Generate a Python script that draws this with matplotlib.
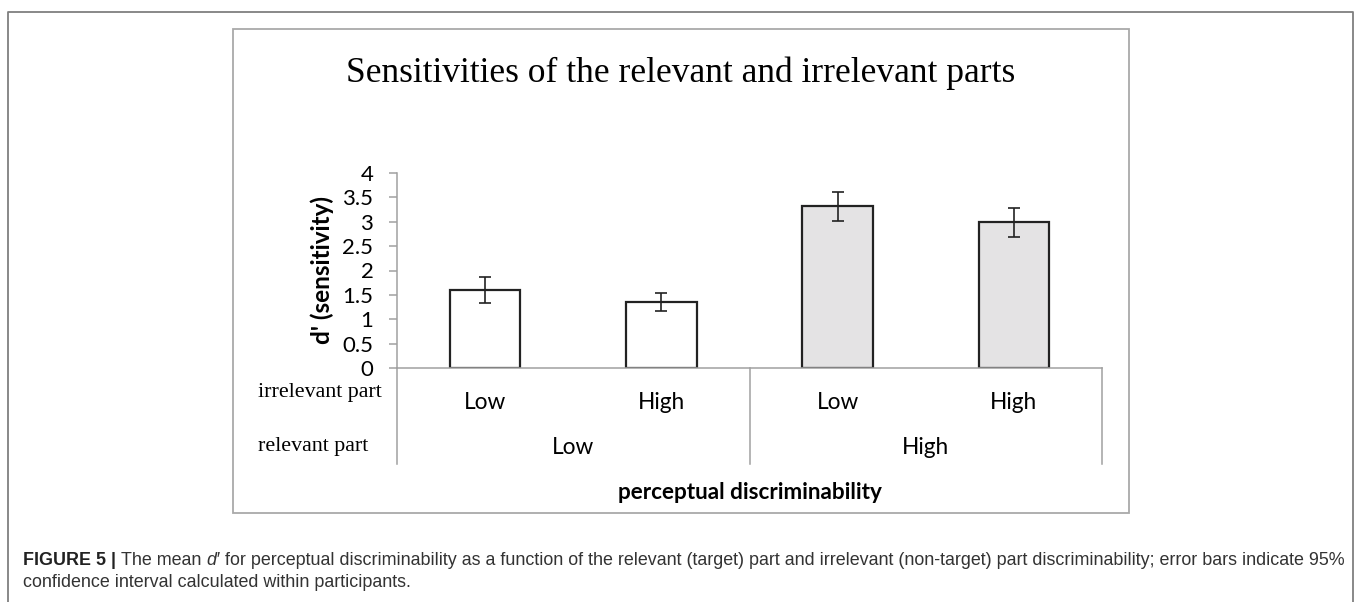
import matplotlib
matplotlib.use("Agg")
import matplotlib.pyplot as plt
from matplotlib.lines import Line2D
from matplotlib.patches import Rectangle

# ---------------- data ----------------
irrelevant_levels = ["Low", "High", "Low", "High"]
relevant_levels = ["Low", "High"]
dprime = [1.60, 1.35, 3.32, 2.99]
ci95 = [0.27, 0.18, 0.30, 0.30]
bar_colors = ["#ffffff", "#ffffff", "#e4e3e4", "#e4e3e4"]
yticks = [0, 0.5, 1, 1.5, 2, 2.5, 3, 3.5, 4]
ytick_labels = ["0", "0.5", "1", "1.5", "2", "2.5", "3", "3.5", "4"]
title = "Sensitivities of the relevant and irrelevant parts"
ylabel = "d' (sensitivity)"
xlabel = "perceptual discriminability"
row_labels = ["irrelevant part", "relevant part"]
caption_line1 = [("FIGURE 5 |", "bold", "normal"), (" The mean ", "normal", "normal"),
                 ("d\u2032", "normal", "italic"),
                 (" for perceptual discriminability as a function of the relevant (target) part and irrelevant (non-target) part discriminability; error bars indicate 95%", "normal", "normal")]
caption_line2 = "confidence interval calculated within participants."

W, H = 1358, 602
fig = plt.figure(figsize=(W / 100, H / 100), dpi=100)
fig.patch.set_facecolor("white")

def fx(px):
    return px / W

def fy(py):
    return 1 - py / H

# frames
frame_c = "#7f7f7f"
fig.add_artist(Line2D([fx(8), fx(8), fx(1353), fx(1353)], [0, fy(12), fy(12), 0],
                      transform=fig.transFigure, color=frame_c, lw=1.3))
fig.add_artist(Rectangle((fx(233), fy(513)), fx(1129) - fx(233), fy(29) - fy(513),
                         transform=fig.transFigure, fill=False, edgecolor="#a9a9a9", lw=1.3))

# axes
ax_l, ax_r, ax_t, ax_b = 397, 1102, 173, 368
ax = fig.add_axes([fx(ax_l), fy(ax_b), fx(ax_r) - fx(ax_l), fy(ax_t) - fy(ax_b)])
ax.set_facecolor("none")
x = list(range(len(dprime)))
ax.set_xlim(-0.5, len(dprime) - 0.5)
ax.set_ylim(0, 4)

ax.bar(x, dprime, width=0.40, color=bar_colors, edgecolor="#222222", linewidth=1.6, zorder=2)
ax.errorbar(x, dprime, yerr=ci95, fmt="none", ecolor="#222222", elinewidth=1.2,
            capsize=4, capthick=1.2, zorder=3)

axis_c = "#a0a0a0"
for s in ["top", "right"]:
    ax.spines[s].set_visible(False)
for s in ["left", "bottom"]:
    ax.spines[s].set_color(axis_c)
    ax.spines[s].set_linewidth(1.1)
ax.set_xticks([])
ax.set_yticks(yticks)
ax.set_yticklabels(ytick_labels, fontsize=16, family="Lato")
ax.tick_params(axis="y", direction="out", length=6, width=1.1, color=axis_c, pad=11)

# group separators below the axis
sep_depth = -1.97
for xs in [-0.5, 1.5, 3.5]:
    ax.plot([xs, xs], [0, sep_depth], color=axis_c, lw=1.1, clip_on=False, zorder=1)

# category labels
for xi, lab in zip(x, irrelevant_levels):
    ax.text(xi, -0.70, lab, ha="center", va="center", fontsize=16.3, family="Lato", clip_on=False)
for gi, lab in enumerate(relevant_levels):
    ax.text(gi * 2 + 0.5, -1.64, lab, ha="center", va="center", fontsize=16.3, family="Lato", clip_on=False)
ax.text(1.5, -2.56, xlabel, ha="center", va="center", fontsize=16.2, family="Lato",
        fontweight="bold", clip_on=False)

ax.set_ylabel(ylabel, fontsize=17.5, family="Lato", fontweight="bold", labelpad=6)

# row labels
fig.text(fx(258), fy(393), row_labels[0], ha="left", va="center", fontsize=15.8, family="Liberation Serif")
fig.text(fx(258), fy(446), row_labels[1], ha="left", va="center", fontsize=15.8, family="Liberation Serif")

# title
fig.text(fx(681), fy(82), title, ha="center", va="baseline", fontsize=25.5, family="Liberation Serif")

# caption
fig.canvas.draw()
renderer = fig.canvas.get_renderer()
cap_size = 12.9
cap_c = "#333333"

def width_of(s, weight, style):
    t1 = fig.text(0, 0, "|" + s + "|", fontsize=cap_size, family="Liberation Sans",
                  fontweight=weight, fontstyle=style)
    t2 = fig.text(0, 0, "||", fontsize=cap_size, family="Liberation Sans",
                  fontweight=weight, fontstyle=style)
    w = t1.get_window_extent(renderer).width - t2.get_window_extent(renderer).width
    t1.remove()
    t2.remove()
    return w

xpos = 23
for s, weight, style in caption_line1:
    lead = s[:len(s) - len(s.lstrip(" "))]
    if lead:
        xpos += width_of(lead, "normal", "normal")
    color = "#222222" if weight == "bold" else cap_c
    fig.text(fx(xpos), fy(565), s.lstrip(" "), ha="left", va="baseline", fontsize=cap_size,
             family="Liberation Sans", fontweight=weight, fontstyle=style, color=color)
    xpos += width_of(s.lstrip(" "), weight, style)
fig.text(fx(23), fy(587), caption_line2, ha="left", va="baseline", fontsize=cap_size,
         family="Liberation Sans", color=cap_c)

fig.savefig("out.png", dpi=100, facecolor="white")
